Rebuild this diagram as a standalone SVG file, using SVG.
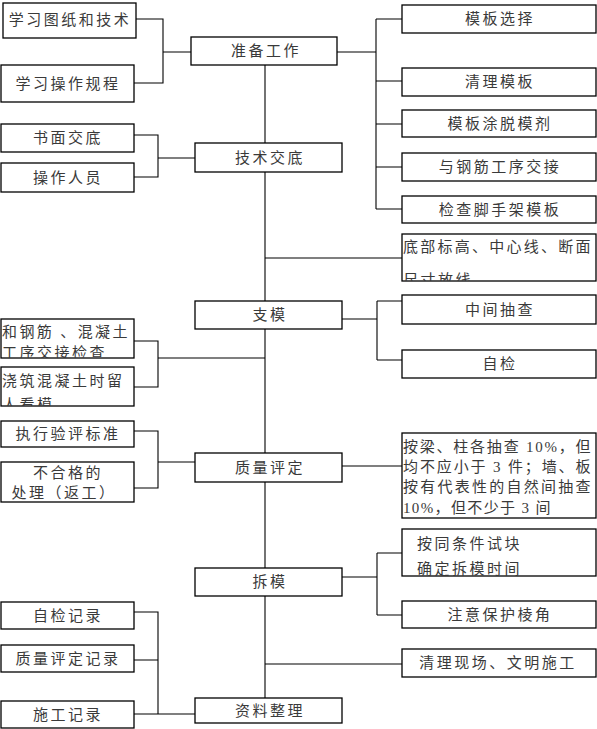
<svg xmlns="http://www.w3.org/2000/svg" width="597" height="729" viewBox="0 0 597 729">
<style>
.b{fill:#fff;stroke:#000;stroke-width:1.3}
.c{fill:none;stroke:#000;stroke-width:1.1}
text{font-family:"Liberation Serif","Noto Sans CJK SC",serif;font-size:15px;fill:#3a3a3a;letter-spacing:2.5px;dominant-baseline:central}
.m{text-anchor:middle}
</style>
<defs>
<clipPath id="k12"><rect x="402" y="234" width="194" height="47"/></clipPath>
<clipPath id="k16"><rect x="1" y="319" width="133" height="39"/></clipPath>
<clipPath id="k17"><rect x="1" y="367" width="133" height="39"/></clipPath>
<clipPath id="k23"><rect x="402" y="529" width="194" height="47"/></clipPath>
<clipPath id="k21"><rect x="402" y="433" width="194" height="85"/></clipPath>
</defs>
<rect width="597" height="729" fill="#fff"/>
<g id="connectors">
<path class="c" d="M265,65V698"/>
<path class="c" d="M136,19H163V83H134M163,52H191"/>
<path class="c" d="M337,52H376M376,19V209M376,19H402M376,81H402M376,124H402M376,167H402M376,209H402"/>
<path class="c" d="M134,135H158V177H134M158,158H195"/>
<path class="c" d="M265,258H402"/>
<path class="c" d="M342,319H377M377,301V360M377,301H402M377,360H402"/>
<path class="c" d="M134,341H158V387H134M158,358H265"/>
<path class="c" d="M134,431H158V488H134M158,462H195"/>
<path class="c" d="M342,466H402"/>
<path class="c" d="M342,577H377M377,553V615M377,553H402M377,615H402"/>
<path class="c" d="M265,664H402"/>
<path class="c" d="M134,612H158V714H134M134,660H158M158,714H195"/>
</g>
<g id="n1"><rect class="b" x="3" y="3" width="133" height="35"/><text x="70" y="20" class="m">学习图纸和技术</text></g>
<g id="n2"><rect class="b" x="1" y="65" width="133" height="37"/><text x="68" y="84" class="m">学习操作规程</text></g>
<g id="n3"><rect class="b" x="191" y="37" width="146" height="28"/><text x="266" y="51" class="m">准备工作</text></g>
<g id="n4"><rect class="b" x="1" y="124" width="133" height="28"/><text x="68" y="138" class="m">书面交底</text></g>
<g id="n5"><rect class="b" x="1" y="163" width="133" height="29"/><text x="68" y="178" class="m">操作人员</text></g>
<g id="n6"><rect class="b" x="195" y="143" width="147" height="29"/><text x="270" y="158" class="m">技术交底</text></g>
<g id="n7"><rect class="b" x="402" y="5" width="194" height="28"/><text x="500" y="19" class="m">模板选择</text></g>
<g id="n8"><rect class="b" x="402" y="68" width="194" height="28"/><text x="500" y="82" class="m">清理模板</text></g>
<g id="n9"><rect class="b" x="402" y="110" width="194" height="27"/><text x="500" y="124" class="m">模板涂脱模剂</text></g>
<g id="n10"><rect class="b" x="402" y="153" width="194" height="28"/><text x="500" y="167" class="m">与钢筋工序交接</text></g>
<g id="n11"><rect class="b" x="402" y="196" width="194" height="27"/><text x="500" y="210" class="m">检查脚手架模板</text></g>
<g id="n12"><rect class="b" x="402" y="234" width="194" height="47"/><g clip-path="url(#k12)"><text x="403" y="247" textLength="190" lengthAdjust="spacing">底部标高、中心线、断面</text><text x="403" y="280">尺寸放线</text></g></g>
<g id="n13"><rect class="b" x="195" y="301" width="147" height="28"/><text x="270" y="315" class="m">支模</text></g>
<g id="n14"><rect class="b" x="402" y="295" width="194" height="29"/><text x="500" y="310" class="m">中间抽查</text></g>
<g id="n15"><rect class="b" x="402" y="350" width="194" height="28"/><text x="500" y="364" class="m">自检</text></g>
<g id="n16"><rect class="b" x="1" y="319" width="133" height="39"/><g clip-path="url(#k16)"><text x="2" y="332" textLength="128" lengthAdjust="spacing">和钢筋 、混凝土</text><text x="2" y="353">工序交接检查</text></g></g>
<g id="n17"><rect class="b" x="1" y="367" width="133" height="39"/><g clip-path="url(#k17)"><text x="2" y="381">浇筑混凝土时留</text><text x="2" y="405">人看模</text></g></g>
<g id="n18"><rect class="b" x="1" y="421" width="133" height="26"/><text x="68" y="434" class="m">执行验评标准</text></g>
<g id="n19"><rect class="b" x="1" y="462" width="133" height="40"/><text x="68" y="473" class="m">不合格的</text><text x="64" y="493" class="m">处理（返工）</text></g>
<g id="n20"><rect class="b" x="195" y="453" width="147" height="29"/><text x="270" y="468" class="m">质量评定</text></g>
<g id="n21"><rect class="b" x="402" y="433" width="194" height="85"/><g clip-path="url(#k21)"><text x="403" y="447" textLength="190" lengthAdjust="spacing">按梁、柱各抽查 10%，但</text><text x="403" y="467" textLength="190" lengthAdjust="spacing">均不应小于 3 件；墙、板</text><text x="403" y="487" textLength="190" lengthAdjust="spacing">按有代表性的自然间抽查</text><text x="403" y="508" textLength="150" lengthAdjust="spacing">10%，但不少于 3 间</text></g></g>
<g id="n22"><rect class="b" x="195" y="568" width="147" height="28"/><text x="270" y="582" class="m">拆模</text></g>
<g id="n23"><rect class="b" x="402" y="529" width="194" height="47"/><g clip-path="url(#k23)"><text x="417" y="544">按同条件试块</text><text x="417" y="569">确定拆模时间</text></g></g>
<g id="n24"><rect class="b" x="402" y="601" width="194" height="27"/><text x="500" y="615" class="m">注意保护棱角</text></g>
<g id="n25"><rect class="b" x="402" y="649" width="194" height="28"/><text x="498" y="663" class="m">清理现场、文明施工</text></g>
<g id="n26"><rect class="b" x="195" y="698" width="147" height="25"/><text x="270" y="711" class="m">资料整理</text></g>
<g id="n27"><rect class="b" x="1" y="602" width="133" height="27"/><text x="68" y="616" class="m">自检记录</text></g>
<g id="n28"><rect class="b" x="1" y="645" width="133" height="27"/><text x="68" y="659" class="m">质量评定记录</text></g>
<g id="n29"><rect class="b" x="1" y="701" width="133" height="27"/><text x="68" y="715" class="m">施工记录</text></g>
</svg>
